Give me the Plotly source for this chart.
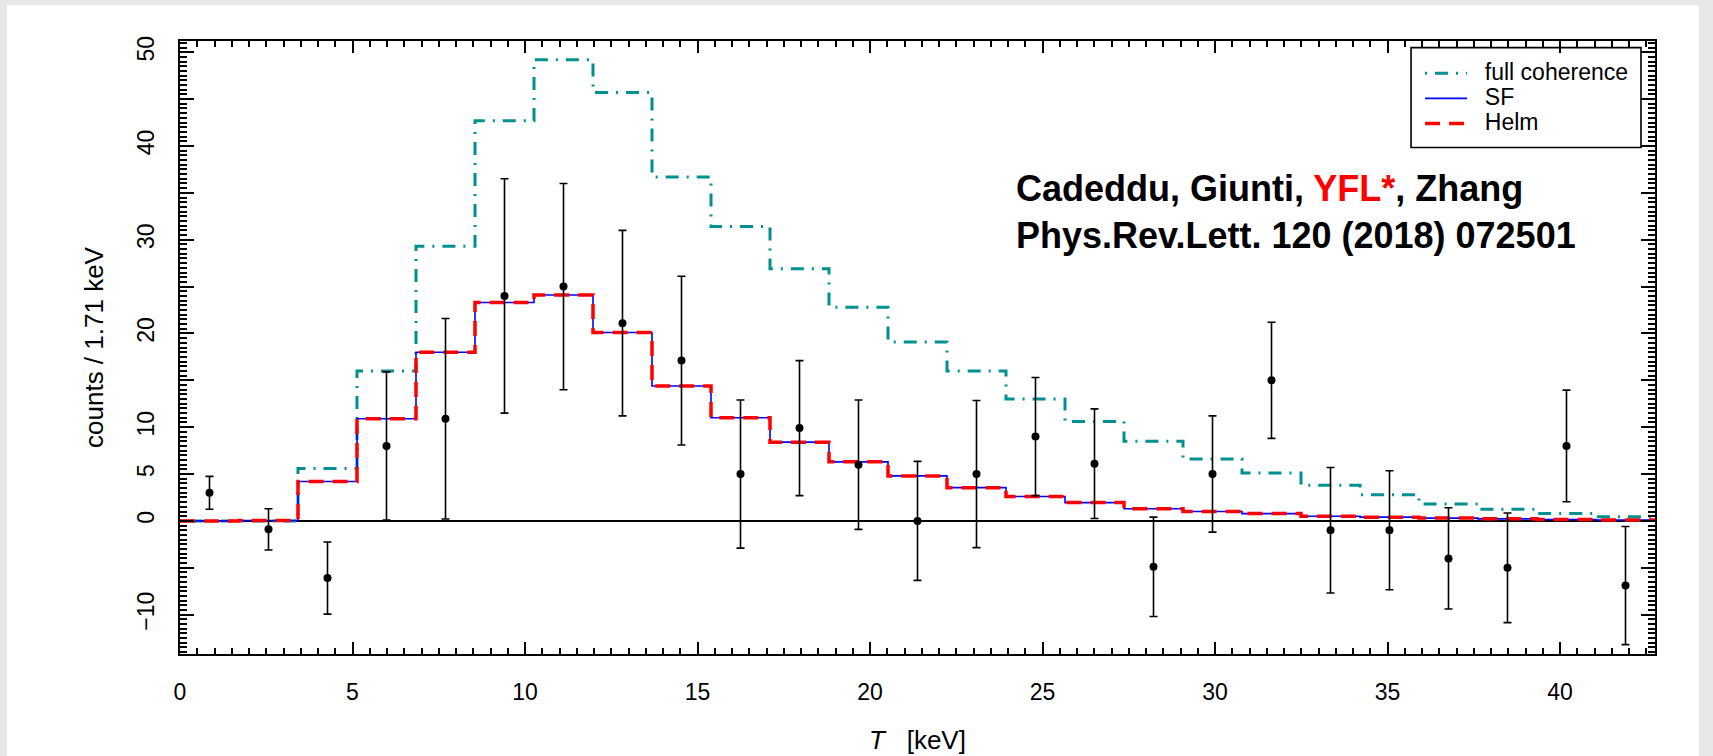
import plotly.graph_objects as go

# ---------------- data ----------------
BIN_WIDTH = 1.71
N_BINS = 25

full_coherence = [0.0, 0.0, 5.6, 16.0, 29.3, 42.7, 49.2, 45.7, 36.7, 31.4, 26.9, 22.8,
                  19.1, 16.0, 13.0, 10.6, 8.5, 6.6, 5.1, 3.8, 2.8, 1.8, 1.25, 0.8, 0.45]
sf = [0.0, 0.05, 4.2, 10.9, 18.0, 23.3, 24.1, 20.1, 14.4, 11.0, 8.4, 6.3,
      4.8, 3.55, 2.6, 1.95, 1.3, 1.0, 0.78, 0.5, 0.4, 0.3, 0.22, 0.15, 0.1]
helm = [0.0, 0.05, 4.2, 10.9, 18.0, 23.3, 24.1, 20.1, 14.4, 11.0, 8.4, 6.3,
        4.8, 3.55, 2.6, 1.95, 1.3, 1.0, 0.78, 0.5, 0.4, 0.3, 0.22, 0.15, 0.1]

data_counts = [3.0, -0.9, -6.1, 8.0, 10.9, 24.0, 25.0, 21.1, 17.1, 5.0, 9.9, 6.0, 0.0,
               5.0, 9.0, 6.1, -4.9, 5.0, 15.0, -1.0, -1.0, -4.0, -5.0, 8.0, -6.9]
data_errors = [1.75, 2.2, 3.85, 7.9, 10.7, 12.5, 11.0, 9.9, 9.0, 7.9, 7.2, 6.9, 6.35,
               7.85, 6.3, 5.85, 5.3, 6.2, 6.2, 6.7, 6.35, 5.4, 5.85, 5.95, 6.3]

series_names = ["full coherence", "SF", "Helm"]

y_tick_vals = [-10, -5, 0, 5, 10, 15, 20, 25, 30, 35, 40, 45, 50]
y_tick_text = ["\u221210", "", "0", "5", "10", "", "20", "", "30", "", "40", "", "50"]

edges = [i * BIN_WIDTH for i in range(N_BINS + 1)]
centers = [(i + 0.5) * BIN_WIDTH for i in range(N_BINS)]

FONT = "Liberation Sans, Arial, Helvetica, sans-serif"


def legend_label(name):
    # larger glyphs than the legend row spacing, with a small gap after the sample line
    return "<span style='font-size:23px'>\u00a0\u00a0" + name + "</span>"


fig = go.Figure()

fig.add_trace(go.Scatter(
    x=edges, y=full_coherence + [full_coherence[-1]], mode="lines", line_shape="hv",
    name=legend_label(series_names[0]),
    line=dict(color="#009090", width=3, dash="2px,8px,13px,8px"),
))
fig.add_trace(go.Scatter(
    x=edges, y=sf + [sf[-1]], mode="lines", line_shape="hv", name=legend_label(series_names[1]),
    line=dict(color="#0000ff", width=1.6),
))
fig.add_trace(go.Scatter(
    x=edges, y=helm + [helm[-1]], mode="lines", line_shape="hv", name=legend_label(series_names[2]),
    line=dict(color="#ff0000", width=3.5, dash="15px,9px"),
))
fig.add_trace(go.Scatter(
    x=centers, y=data_counts, mode="markers", name="data", showlegend=False,
    marker=dict(color="black", size=8),
    error_y=dict(type="data", array=data_errors, color="black", thickness=1.6, width=4),
))

axis_common = dict(
    showline=True, linecolor="black", linewidth=1.6, mirror="allticks",
    ticks="inside", tickcolor="black", tickwidth=1.5,
    showgrid=False, automargin=False,
    tickfont=dict(family=FONT, size=23, color="black"),
)

fig.update_xaxes(
    range=[0, N_BINS * BIN_WIDTH], tickmode="linear", tick0=0, dtick=5, ticklen=12,
    minor=dict(tickmode="linear", tick0=0, dtick=0.5, ticklen=6, ticks="inside",
               tickcolor="black", tickwidth=1.5, showgrid=False),
    ticklabelstandoff=17,
    title=dict(text="<i>T</i>\u00a0\u00a0\u00a0[keV]", font=dict(family=FONT, size=26, color="black"),
               standoff=26),
    zeroline=False,
    **axis_common,
)
fig.update_yaxes(
    range=[-14.2, 51.2], tickmode="array", tickvals=y_tick_vals, ticktext=y_tick_text,
    ticklen=14, tickangle=-90,
    minor=dict(tickmode="linear", tick0=0, dtick=0.5, ticklen=7, ticks="inside",
               tickcolor="black", tickwidth=1.5, showgrid=False),
    ticklabelstandoff=15,
    title=dict(text="counts / 1.71 keV", font=dict(family=FONT, size=26, color="black"),
               standoff=22),
    zeroline=True, zerolinecolor="black", zerolinewidth=1.6,
    **axis_common,
)

fig.update_layout(
    width=1713, height=756,
    margin=dict(l=180, r=58, t=41, b=102, pad=0),
    paper_bgcolor="#e7e7e7", plot_bgcolor="white",
    font=dict(family=FONT, color="black"),
    showlegend=True,
    legend=dict(
        x=0.8407, y=0.976, xanchor="left", yanchor="top",
        bgcolor="rgba(0,0,0,0)", borderwidth=0,
        font=dict(family=FONT, size=17, color="black"),
        itemwidth=42, tracegroupgap=0,
    ),
    shapes=[
        dict(type="rect", xref="paper", yref="paper", x0=-0.1173, x1=1.0298,
             y0=-0.3, y1=1.0582, fillcolor="white", line=dict(width=0), layer="below"),
        dict(type="rect", xref="paper", yref="paper", x0=0.8346, x1=0.9905,
             y0=0.8263, y1=0.9892, fillcolor="white", line=dict(color="black", width=1.6),
             layer="below"),
    ],
    annotations=[
        dict(
            text="<b>Cadeddu, Giunti, <span style='color:#ff0000'>YFL*</span>, Zhang<br>"
                 "Phys.Rev.Lett. 120 (2018) 072501</b>",
            xref="paper", yref="paper", x=0.5654, y=0.7216,
            xanchor="left", yanchor="middle", align="left", showarrow=False,
            font=dict(family=FONT, size=36, color="black"),
        )
    ],
)

fig.write_html("out.html", config={"displayModeBar": False})
